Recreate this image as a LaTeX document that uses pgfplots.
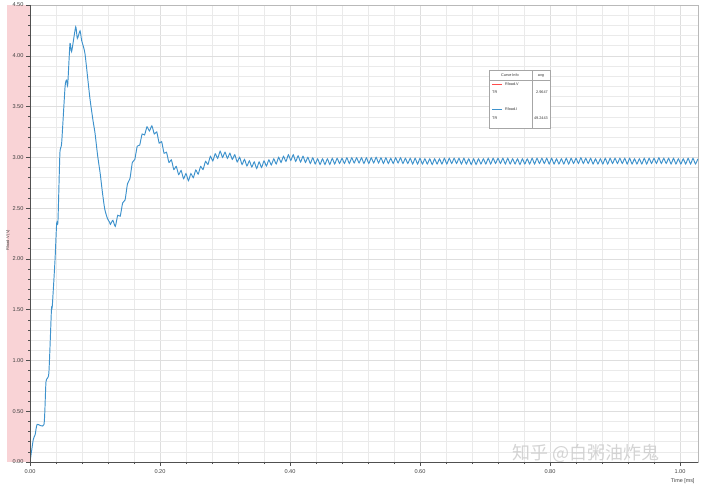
\documentclass[border=0pt]{standalone}
\usepackage{pgfplots}
\pgfplotsset{compat=1.18}
\usepackage{fontspec}
\setmainfont{Liberation Sans}
\newfontfamily\cjk{Noto Sans CJK SC}
\definecolor{curve}{RGB}{62,146,204}
\definecolor{band}{RGB}{249,211,214}
\definecolor{gridc}{RGB}{234,234,234}
\definecolor{gridm}{RGB}{222,222,222}
\definecolor{axisc}{RGB}{80,80,80}

\begin{document}
\begin{tikzpicture}
% pink band left of the plot
\fill[band] (-23pt,0) rectangle (0,457pt);
\begin{axis}[
    at={(0,0)}, anchor=south west,
    scale only axis,
    width=668pt, height=457pt,
    xmin=0, xmax=1.0277,
    ymin=0, ymax=4.5,
    xtick={0,0.2,0.4,0.6,0.8,1.0},
    ytick={0,0.5,1,1.5,2,2.5,3,3.5,4,4.5},
    minor x tick num=4,
    minor y tick num=4,
    grid=both,
    major grid style={draw=gridm, line width=0.5pt},
    minor grid style={draw=gridc, line width=0.4pt},
    tick align=outside,
    xtick pos=bottom, ytick pos=left,
    major tick length=4pt, minor tick length=2pt,
    tick style={axisc, line width=0.5pt},
    axis line style={draw=gray!55, line width=0.4pt},
    ticklabel style={font=\fontsize{5.6}{6}\selectfont, text=black!75},
    yticklabel style={xshift=1pt},
    /pgf/number format/fixed,
    /pgf/number format/fixed zerofill,
    /pgf/number format/precision=2,
    /pgf/number format/assume math mode=true,
]
\addplot[curve, line width=0.95pt, smooth, tension=0.35] coordinates {
(0,0)(0.005,0.22)(0.008,0.27)(0.011,0.37)(0.0215,0.37)(0.0246,0.79)(0.029,0.875)
(0.033,1.5)(0.0343,1.535)(0.0385,1.99)(0.041,2.35)(0.043,2.37)(0.046,3.04)(0.0487,3.14)
(0.054,3.70)(0.0564,3.76)(0.058,3.71)(0.0615,4.12)(0.064,4.04)(0.0703,4.285)(0.0728,4.17)
(0.077,4.245)(0.0795,4.15)(0.0846,4.02)(0.092,3.59)(0.097,3.36)(0.1,3.24)
(0.104,3.02)(0.108,2.84)(0.1115,2.65)(0.115,2.49)(0.119,2.40)(0.1225,2.36)
(0.12375,2.34)(0.1275,2.38)(0.13125,2.32)(0.135,2.43)(0.13875,2.42)(0.1425,2.55)
(0.14625,2.58)(0.15,2.74)(0.15375,2.79)(0.1575,2.95)(0.16125,2.98)(0.165,3.11)
(0.16875,3.12)(0.1725,3.23)(0.17625,3.22)(0.18,3.30)(0.18375,3.26)(0.1875,3.31)
(0.19125,3.23)(0.195,3.25)(0.19875,3.14)(0.2025,3.155)(0.20625,3.04)(0.21,3.05)
(0.21375,2.95)(0.2175,2.975)(0.22125,2.88)(0.225,2.91)(0.22875,2.83)(0.2325,2.87)
(0.23625,2.79)(0.24,2.84)(0.24375,2.77)(0.2475,2.84)(0.25125,2.80)(0.255,2.875)
(0.25875,2.835)(0.2625,2.91)(0.26625,2.88)(0.27,2.96)(0.27375,2.93)(0.2775,3.01)
(0.28125,2.965)(0.285,3.035)(0.28875,2.99)(0.2925,3.06)(0.29625,3.00)(0.3,3.05)
(0.30375,2.99)(0.3075,3.04)(0.31125,2.98)(0.315,3.025)(0.31875,2.955)(0.3225,3.00)
(0.32625,2.93)(0.33,2.98)(0.33375,2.915)(0.3375,2.965)(0.34125,2.905)(0.345,2.955)
(0.34875,2.89)(0.3525,2.955)(0.35625,2.90)(0.36,2.965)(0.36375,2.915)(0.3675,2.975)
(0.37125,2.925)(0.375,2.985)(0.37875,2.935)(0.3825,3.00)(0.38625,2.95)(0.39,3.01)
(0.39375,2.96)(0.3975,3.025)(0.40125,2.97)(0.405,3.025)(0.40875,2.96)(0.4125,3.015)
(0.41625,2.955)(0.42,3.01)(0.42375,2.95)(0.4275,3.00)(0.43125,2.94)(0.435,2.995)
(0.43875,2.935)(0.4425,2.985)(0.44625,2.93)(0.45,2.985)(0.45375,2.93)(0.4575,2.985)
(0.46125,2.93)(0.465,2.99)(0.46875,2.935)(0.4725,2.99)(0.47625,2.94)(0.48,2.99)
(0.48375,2.94)(0.4875,2.995)(0.49125,2.94)(0.495,2.995)(0.49875,2.945)(0.5025,2.995)
(0.50625,2.945)(0.51,2.995)(0.51375,2.94)(0.5175,2.995)(0.52125,2.94)(0.525,2.995)
(0.52875,2.945)(0.5325,3.00)(0.53625,2.945)(0.54,2.995)(0.54375,2.94)(0.5475,2.995)
(0.55125,2.94)(0.555,2.99)(0.55875,2.94)(0.5625,2.995)(0.56625,2.945)(0.57,2.995)
(0.57375,2.94)(0.5775,2.99)(0.58125,2.94)(0.585,2.99)(0.58875,2.935)(0.5925,2.99)
(0.59625,2.935)(0.6,2.99)(0.60375,2.935)(0.6075,2.985)(0.61125,2.935)(0.615,2.985)
(0.61875,2.93)(0.6225,2.985)(0.62625,2.935)(0.63,2.985)(0.63375,2.935)(0.6375,2.99)
(0.64125,2.935)(0.645,2.99)(0.64875,2.94)(0.6525,2.99)(0.65625,2.94)(0.66,2.99)
(0.66375,2.935)(0.6675,2.99)(0.67125,2.935)(0.675,2.985)(0.67875,2.93)(0.6825,2.985)
(0.68625,2.93)(0.69,2.985)(0.69375,2.935)(0.6975,2.985)(0.70125,2.935)(0.705,2.99)
(0.70875,2.935)(0.7125,2.99)(0.71625,2.94)(0.72,2.99)(0.72375,2.94)(0.7275,2.99)
(0.73125,2.935)(0.735,2.99)(0.73875,2.935)(0.7425,2.985)(0.74625,2.935)(0.75,2.985)
(0.75375,2.93)(0.7575,2.985)(0.76125,2.935)(0.765,2.985)(0.76875,2.935)(0.7725,2.99)
(0.77625,2.935)(0.78,2.99)(0.78375,2.94)(0.7875,2.99)(0.79125,2.94)(0.795,2.99)
(0.79875,2.935)(0.8025,2.99)(0.80625,2.935)(0.81,2.985)(0.81375,2.935)(0.8175,2.985)
(0.82125,2.935)(0.825,2.99)(0.82875,2.935)(0.8325,2.99)(0.83625,2.94)(0.84,2.99)
(0.84375,2.94)(0.8475,2.995)(0.85125,2.94)(0.855,2.99)(0.85875,2.94)(0.8625,2.99)
(0.86625,2.935)(0.87,2.985)(0.87375,2.935)(0.8775,2.985)(0.88125,2.935)(0.885,2.99)
(0.88875,2.935)(0.8925,2.99)(0.89625,2.94)(0.9,2.99)(0.90375,2.94)(0.9075,2.99)
(0.91125,2.94)(0.915,2.99)(0.91875,2.935)(0.9225,2.99)(0.92625,2.935)(0.93,2.985)
(0.93375,2.935)(0.9375,2.985)(0.94125,2.935)(0.945,2.99)(0.94875,2.935)(0.9525,2.99)
(0.95625,2.94)(0.96,2.99)(0.96375,2.94)(0.9675,2.995)(0.97125,2.94)(0.975,2.99)
(0.97875,2.94)(0.9825,2.99)(0.98625,2.935)(0.99,2.99)(0.99375,2.935)(0.9975,2.985)
(1.00125,2.935)(1.005,2.985)(1.00875,2.935)(1.0125,2.99)(1.01625,2.935)(1.02,2.99)
(1.02375,2.935)(1.0275,2.985)
};
\end{axis}
% darker left and bottom axis lines
\draw[axisc, line width=0.6pt] (0,457pt) -- (0,0) -- (668pt,0);
% axis titles
\node[rotate=90, font=\fontsize{4}{5}\selectfont, text=black!75] at (-22pt,222pt) {Rload.V (V)};
\node[anchor=base east, font=\fontsize{5.4}{6}\selectfont, text=black!75] at (668pt,-20pt) {Time [ms]};
% curve info box
\fill[gray!35] (460pt,333pt) rectangle (521pt,391pt);
\filldraw[fill=white, draw=gray!70, line width=0.4pt] (459pt,334pt) rectangle (520pt,392pt);
\draw[gray!70, line width=0.4pt] (459pt,381.3pt) -- (520pt,381.3pt);
\draw[gray!70, line width=0.4pt] (501.7pt,334pt) -- (501.7pt,392pt);
\begin{scope}[every node/.style={font=\fontsize{3.8}{4}\selectfont, text=black!80, inner sep=0pt}]
\node at (480pt,386.6pt) {Curve Info};
\node at (511pt,386.6pt) {avg};
\draw[red!60!pink, line width=0.7pt] (462pt,378pt) -- (472pt,378pt);
\node[anchor=west] at (475pt,378pt) {Rload.V};
\node[anchor=west] at (462pt,369.7pt) {TR};
\node[anchor=east] at (518pt,369.7pt) {2.9647};
\draw[curve, line width=0.7pt] (462pt,352.7pt) -- (472pt,352.7pt);
\node[anchor=west] at (475pt,352.7pt) {Rload.I};
\node[anchor=west] at (462pt,344.3pt) {TR};
\node[anchor=east] at (518pt,344.3pt) {49.2443};
\end{scope}
% watermark
\node[anchor=west, inner sep=0pt, font=\cjk\fontsize{18}{18}\selectfont, text=gray!40, opacity=0.85] at (482pt,9pt) {知乎 @白粥油炸鬼};
\pgfresetboundingbox
\useasboundingbox (-30pt,-23pt) rectangle (671pt,462pt);
\end{tikzpicture}
\end{document}
